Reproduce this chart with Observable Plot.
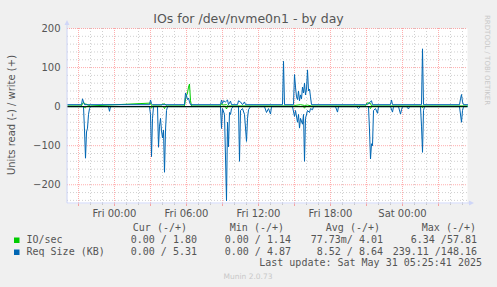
<!DOCTYPE html>
<html><head><meta charset="utf-8">
<script src="https://cdn.jsdelivr.net/npm/d3@7"></script>
<script src="https://cdn.jsdelivr.net/npm/@observablehq/plot@0.6"></script>
<style>
html,body{margin:0;padding:0;background:#f0f0f0;}
#chart{position:relative;width:497px;height:287px;overflow:hidden}
</style></head><body><div id="chart"></div>
<script>
// time axis: 5-minute samples starting Thu 2025-05-29 20:05 UTC, 400 samples
const startMs = Date.UTC(2025, 4, 29, 20, 5);
const stepMs = 300000;
const nSteps = 400;

// Req Size (KB) read (drawn negative)
const reqReadSteps  = [0,14,16,17,18,19,20,21,22,23,41,42,43,82,83,84,85,86,90,91,92,93,94,95,96,97,98,99,100,153,154,155,157,159,160,161,162,163,164,166,171,172,173,175,177,179,180,181,183,197,199,201,203,204,225,227,228,230,231,232,233,235,236,237,238,240,242,243,245,246,268,270,271,289,291,293,301,302,303,304,305,306,308,310,311,323,325,326,331,333,334,335,339,341,342,353,354,355,356,357,392,394,395,396,400];
const reqReadValues = [0,0,0,60,132,65,55,20,5,0,0,12,0,0,20,128,30,0,0,104,50,30,62,80,60,168,60,10,0,0,56,5,20,241,40,103,15,20,5,0,0,140,10,5,20,89,30,8,0,0,15,5,19,0,0,25,10,40,20,55,30,45,20,140,30,10,15,5,8,0,0,14,0,0,5,0,0,60,134,95,100,10,5,17,0,0,14,0,0,19,8,0,0,6,0,0,50,117,10,0,0,40,10,0,0];

// Req Size (KB) write (drawn positive)
const reqWriteSteps  = [0,14,15,16,17,82,83,84,85,117,118,119,120,121,122,123,153,154,155,156,158,160,161,163,164,170,171,173,175,177,178,215,216,217,226,227,228,229,230,231,232,233,234,235,236,237,238,239,240,241,242,243,244,298,299,300,304,305,323,324,325,354,355,356,392,393,394,395,396,400];
const reqWriteValues = [5,5,20,12,5,5,17,8,5,5,35,28,18,22,12,5,5,17,8,15,12,17,5,14,5,5,15,12,5,12,5,5,116,5,5,82,50,25,18,40,15,30,20,50,35,60,30,45,94,40,45,25,5,5,8,5,15,5,5,17,5,5,148,5,5,20,31,12,5,5];

// IO/sec write (positive)
const ioWriteSteps  = [0,14,15,16,17,19,21,23,83,84,85,93,94,95,97,99,100,117,118,119,120,121,122,123,124,153,154,155,159,160,161,226,227,233,237,240,244,298,300,303,304,400];
const ioWriteValues = [1.8,1.8,8,11,7,6,3,1.8,9,3,1.8,1.8,4,6,7,3,1.8,1.8,20,28,35,50,58,15,1.8,1.8,8,4,5,3,1.8,1.8,3,5,3,4,1.8,1.8,10,8,1.8,1.8];

// IO/sec read (drawn negative)
const ioReadSteps  = [0,16,18,19,83,84,85,96,97,98,158,159,160,236,237,238,302,303,304,354,355,356,400];
const ioReadValues = [0,0,3,0,0,4,0,0,5,0,0,6,0,0,4,0,0,5,0,0,3,0,0];

const yTickValues = [-200, -100, 0, 100, 200];
const seriesNames = ["IO/sec", "Req Size (KB)"];
const seriesColors = ["#00CC00", "#0066B3"];
const legendHeaders = ["Cur (-/+)", "Min (-/+)", "Avg (-/+)", "Max (-/+)"];
const legendRows = [
  ["0.00 / 1.80", "0.00 / 1.14", "77.73m/ 4.01", "6.34 /57.81"],
  ["0.00 / 5.31", "0.00 / 4.87", "8.52 / 8.64", "239.11 /148.16"]
];
const titleText = "IOs for /dev/nvme0n1 - by day";
const yLabelText = "Units read (-) / write (+)";
const lastUpdate = "Last update: Sat May 31 05:25:41 2025";
const footerText = "Munin 2.0.73";
const sideText = "RRDTOOL / TOBI OETIKER";

const T = s => new Date(startMs + s * stepMs);
const mk = (steps, vals, sign) => steps.map((s, i) => ({t: T(s), v: sign * vals[i]}));

const reqRead = mk(reqReadSteps, reqReadValues, -1);
const reqWrite = mk(reqWriteSteps, reqWriteValues, 1);
const ioWrite = mk(ioWriteSteps, ioWriteValues, 1);
const ioRead = mk(ioReadSteps, ioReadValues, -1);

const t0 = T(0), t1 = T(nSteps);
const hours = d3.utcHour.range(t0, t1);
const minorX = hours.filter(d => d.getUTCHours() % 3 !== 0);
const majorX = hours.filter(d => d.getUTCHours() % 3 === 0);
const labelX = hours.filter(d => d.getUTCHours() % 6 === 0);
const minorY = d3.range(-240, 201, 20).filter(v => v % 100 !== 0);
const majorY = d3.range(-200, 201, 100);

const gridMinor = "rgba(128,128,128,0.37)";
const gridMajor = "rgba(255,32,32,0.37)";
const axisCol = "#CFD6F8";
const fontCol = "#555";

const chart = Plot.plot({
  width: 497, height: 287,
  marginLeft: 67, marginRight: 30, marginTop: 28, marginBottom: 84,
  style: {background: "#f0f0f0", fontFamily: "DejaVu Sans", fontSize: "10px", color: fontCol},
  x: {type: "utc", domain: [t0, t1]},
  y: {domain: [-248, 200]},
  marks: [
    Plot.frame({fill: "white", stroke: "none"}),
    Plot.ruleX(minorX, {stroke: gridMinor, strokeDasharray: "1,2"}),
    Plot.ruleY(minorY, {stroke: gridMinor, strokeDasharray: "1,2"}),
    Plot.ruleX(majorX, {stroke: gridMajor, strokeDasharray: "1,1"}),
    Plot.ruleY(majorY, {stroke: gridMajor, strokeDasharray: "1,1"}),
    Plot.axisX({ticks: minorX, tickSize: 2, tickFormat: () => "", stroke: gridMinor, label: null}),
    Plot.axisX({ticks: majorX, tickSize: 3, tickFormat: () => "", stroke: gridMajor, label: null}),
    Plot.axisX({ticks: labelX, tickSize: 0, tickPadding: 6, tickFormat: d3.utcFormat("%a %H:%M"), fill: fontCol, fontSize: 10, label: null}),
    Plot.axisY({ticks: yTickValues, tickSize: 0, tickPadding: 7, fill: fontCol, fontSize: 10, label: null}),
    Plot.line(ioRead, {x: "t", y: "v", stroke: seriesColors[0], strokeWidth: 1}),
    Plot.line(ioWrite, {x: "t", y: "v", stroke: seriesColors[0], strokeWidth: 1}),
    Plot.line(reqRead, {x: "t", y: "v", stroke: seriesColors[1], strokeWidth: 1}),
    Plot.line(reqWrite, {x: "t", y: "v", stroke: seriesColors[1], strokeWidth: 1}),
    Plot.ruleY([0], {stroke: "#000", strokeWidth: 1})
  ]
});
document.getElementById("chart").appendChild(chart);

// decorations
const sx = chart.scale("x"), sy = chart.scale("y");
const svg = d3.select(chart);
const xl = sx.apply(t0), xr = sx.apply(t1), yb = sy.apply(-248), yt = sy.apply(200);
svg.append("line").attr("x1", xl).attr("x2", xl).attr("y1", yb).attr("y2", yt - 4).attr("stroke", axisCol);
svg.append("path").attr("d", `M${xl-2.5},${yt-3}L${xl+2.5},${yt-3}L${xl},${yt-8}Z`).attr("fill", axisCol);
svg.append("line").attr("x1", xl).attr("x2", xr + 3).attr("y1", yb).attr("y2", yb).attr("stroke", axisCol);
svg.append("path").attr("d", `M${xr+2},${yb-2.5}L${xr+2},${yb+2.5}L${xr+7},${yb}Z`).attr("fill", axisCol);

const txt = (x, y, s, opts = {}) => svg.append("text")
  .attr("x", x).attr("y", y).text(s)
  .attr("fill", opts.fill || fontCol)
  .attr("font-family", opts.family || "DejaVu Sans")
  .attr("font-size", opts.size || 10)
  .attr("text-anchor", opts.anchor || "start")
  .attr("xml:space", "preserve").style("white-space", "pre");

txt(248.5, 23, titleText, {size: 12.5, anchor: "middle"});
txt(0, 0, yLabelText, {anchor: "middle"}).attr("transform", "translate(15,115) rotate(-90)");
txt(0, 0, sideText, {size: 7, fill: "#c8c8c8"}).attr("transform", "translate(485,15) rotate(90)");

const mono = "DejaVu Sans Mono";
const headerEnds = [187, 284, 380, 476];
const valueEnds = [197, 291, 383, 477];
legendHeaders.forEach((h, i) => txt(headerEnds[i], 231, h, {family: mono, anchor: "end"}));
seriesNames.forEach((n, r) => {
  const yy = 243 + r * 12;
  svg.append("rect").attr("x", 14).attr("y", yy - 5.5).attr("width", 5.5).attr("height", 5.5).attr("fill", seriesColors[r]);
  txt(26.5, yy, n, {family: mono});
  legendRows[r].forEach((v, i) => txt(valueEnds[i], yy, v, {family: mono, anchor: "end"}));
});
txt(482, 266, lastUpdate, {family: mono, anchor: "end"});
txt(248, 279, footerText, {size: 7.5, fill: "#c8c8c8", anchor: "middle"});
</script></body></html>
